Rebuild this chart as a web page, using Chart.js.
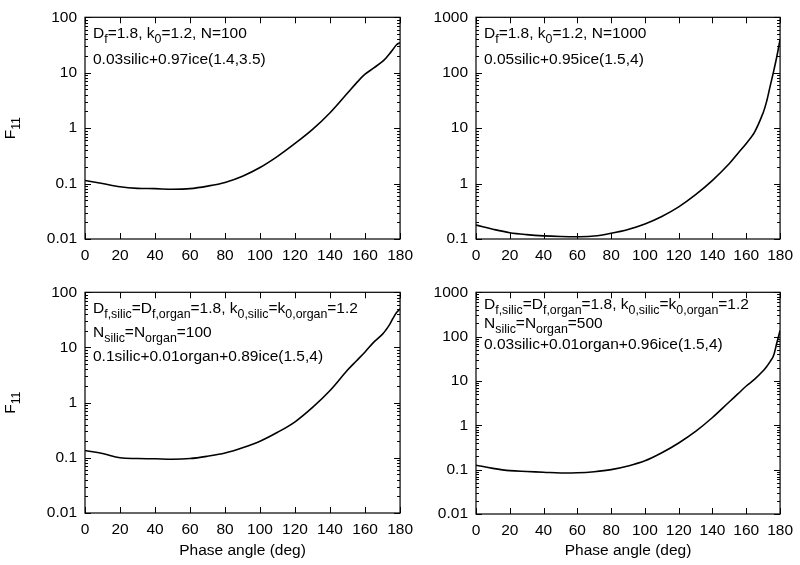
<!DOCTYPE html>
<html>
<head>
<meta charset="utf-8">
<script src="https://cdn.jsdelivr.net/npm/chart.js@4.4.0/dist/chart.umd.min.js"></script>
<style>
    body { margin: 0; background: #fff; }
    #wrap { position: relative; width: 800px; height: 565px; overflow: hidden; }
    canvas { position: absolute; }
</style>
</head>
<body>
<div id="wrap">
    <canvas id="p1" width="420" height="275" style="left:0;top:0"></canvas>
    <canvas id="p2" width="400" height="275" style="left:400px;top:0"></canvas>
    <canvas id="p3" width="420" height="290" style="left:0;top:275px"></canvas>
    <canvas id="p4" width="400" height="290" style="left:400px;top:275px"></canvas>
</div>
<script>
// phase angles (deg) shared by all four panels
const angles = [0, 10, 20, 30, 40, 50, 60, 70, 80, 90, 100, 110, 120, 130, 140, 150, 155, 160, 165, 170, 172, 174, 176, 178, 180];

// F11
const f11Top1 = [0.114, 0.1, 0.0875, 0.082, 0.081, 0.079, 0.081, 0.09, 0.105, 0.136, 0.195, 0.31, 0.53, 0.95, 1.9, 4.3, 6.5, 9.4, 12.2, 16, 18.5, 22, 26.5, 32, 35];
const f11Top2 = [0.178, 0.15, 0.13, 0.12, 0.114, 0.111, 0.11, 0.113, 0.127, 0.149, 0.187, 0.255, 0.38, 0.63, 1.14, 2.3, 3.5, 5.3, 8.6, 19, 30, 55, 100, 190, 400];
const f11Bottom1 = [0.136, 0.12, 0.1, 0.097, 0.096, 0.094, 0.097, 0.107, 0.122, 0.152, 0.2, 0.29, 0.45, 0.82, 1.66, 3.9, 5.7, 8.3, 12.5, 17.5, 21, 26, 34, 43, 50];
const f11Bottom2 = [0.126, 0.107, 0.095, 0.091, 0.0875, 0.084, 0.085, 0.09, 0.1, 0.121, 0.158, 0.24, 0.40, 0.73, 1.5, 3.4, 5.1, 7.7, 11, 17, 21, 27, 36, 70, 138];

// axis ticks
const angleTicks = [0, 20, 40, 60, 80, 100, 120, 140, 160, 180];
const decadesTop1 = [0.01, 0.1, 1, 10, 100];
const decadesTop2 = [0.1, 1, 10, 100, 1000];
const decadesBottom = [0.01, 0.1, 1, 10, 100];
const decadesBottom2 = [0.01, 0.1, 1, 10, 100, 1000];

// panel labels (_{...} marks a subscript)
const notesTop1 = ['D_{f}=1.8, k_{0}=1.2, N=100', '0.03silic+0.97ice(1.4,3.5)'];
const notesTop2 = ['D_{f}=1.8, k_{0}=1.2, N=1000', '0.05silic+0.95ice(1.5,4)'];
const notesBottom1 = ['D_{f,silic}=D_{f,organ}=1.8, k_{0,silic}=k_{0,organ}=1.2', 'N_{silic}=N_{organ}=100', '0.1silic+0.01organ+0.89ice(1.5,4)'];
const notesBottom2 = ['D_{f,silic}=D_{f,organ}=1.8, k_{0,silic}=k_{0,organ}=1.2', 'N_{silic}=N_{organ}=500', '0.03silic+0.01organ+0.96ice(1.5,4)'];

const FONT = '"Liberation Sans", Arial, Helvetica, sans-serif';
const SIZE = 15.5;

function eachPart(text, fn) {
    text.split(/(_\{[^}]*\})/).forEach(p => {
        if (!p) return;
        const sub = p.startsWith('_{');
        fn(sub ? p.slice(2, -1) : p, sub);
    });
}

function drawRich(ctx, text, x, y, size) {
    eachPart(text, (t, sub) => {
        ctx.font = (sub ? size * 0.8 : size) + 'px ' + FONT;
        ctx.fillText(t, x, sub ? y + size * 0.3 : y);
        x += ctx.measureText(t).width;
    });
    return x;
}

function richWidth(ctx, text, size) {
    let w = 0;
    eachPart(text, (t, sub) => {
        ctx.font = (sub ? size * 0.8 : size) + 'px ' + FONT;
        w += ctx.measureText(t).width;
    });
    return w;
}

// frame with inward ticks, notes and the F11 label
const framePlugin = {
    id: 'frame',
    afterDraw(chart, args, opts) {
        const ctx = chart.ctx;
        const { left, right, top, bottom } = chart.chartArea;
        const xs = chart.scales.x, ys = chart.scales.y;
        ctx.save();
        ctx.strokeStyle = '#000';
        ctx.lineWidth = 1.2;
        ctx.strokeRect(left, top, right - left, bottom - top);
        ctx.lineWidth = 1;
        ctx.beginPath();
        angleTicks.forEach(v => {
            const px = Math.round(xs.getPixelForValue(v)) + 0.5;
            ctx.moveTo(px, bottom); ctx.lineTo(px, bottom - 6);
            ctx.moveTo(px, top); ctx.lineTo(px, top + 6);
        });
        opts.decades.forEach((d, i) => {
            const py = Math.round(ys.getPixelForValue(d)) + 0.5;
            ctx.moveTo(left, py); ctx.lineTo(left + 6, py);
            ctx.moveTo(right, py); ctx.lineTo(right - 6, py);
            if (i < opts.decades.length - 1) {
                for (let k = 2; k <= 9; k++) {
                    const my = Math.round(ys.getPixelForValue(d * k)) + 0.5;
                    ctx.moveTo(left, my); ctx.lineTo(left + 3, my);
                    ctx.moveTo(right, my); ctx.lineTo(right - 3, my);
                }
            }
        });
        ctx.stroke();

        ctx.fillStyle = '#000';
        ctx.textBaseline = 'alphabetic';
        ctx.textAlign = 'left';
        opts.notes.forEach((line, i) => {
            drawRich(ctx, line, left + opts.noteX, top + opts.noteY[i], SIZE);
        });

        if (opts.yTitle) {
            const cy = (top + bottom) / 2;
            const w = richWidth(ctx, 'F_{11}', SIZE);
            ctx.translate(15, cy);
            ctx.rotate(-Math.PI / 2);
            drawRich(ctx, 'F_{11}', -w / 2, 0, SIZE);
        }
        ctx.restore();
    }
};

function makePanel(id, values, decades, notes, box, noteY, xTitle, yTitle) {
    const canvas = document.getElementById(id);
    const W = canvas.width, H = canvas.height;
    const points = angles.map((a, i) => ({ x: a, y: values[i] }));
    new Chart(canvas.getContext('2d'), {
        type: 'line',
        data: {
            datasets: [{
                data: points,
                borderColor: '#000',
                borderWidth: 1.6,
                pointRadius: 0,
                fill: false,
                tension: 0.35
            }]
        },
        options: {
            responsive: false,
            animation: false,
            devicePixelRatio: 1,
            layout: { padding: { top: box.top, right: W - box.right, left: 0, bottom: 0 } },
            plugins: {
                legend: { display: false },
                tooltip: { enabled: false },
                frame: { decades: decades, notes: notes, noteX: 8, noteY: noteY, yTitle: yTitle }
            },
            scales: {
                x: {
                    type: 'linear',
                    min: 0,
                    max: 180,
                    grid: { display: false, drawTicks: false },
                    border: { display: false },
                    ticks: {
                        stepSize: 20,
                        autoSkip: false,
                        maxRotation: 0,
                        padding: 7,
                        color: '#000',
                        font: { family: FONT, size: SIZE }
                    },
                    title: {
                        display: xTitle,
                        text: 'Phase angle (deg)',
                        color: '#000',
                        padding: { top: 0, bottom: 5 },
                        font: { family: FONT, size: SIZE }
                    },
                    afterFit(scale) { scale.height = H - box.bottom; }
                },
                y: {
                    type: 'logarithmic',
                    min: decades[0],
                    max: decades[decades.length - 1],
                    grid: { display: false, drawTicks: false },
                    border: { display: false },
                    afterBuildTicks(scale) {
                        scale.ticks = decades.map(v => ({ value: v }));
                    },
                    ticks: {
                        padding: 8,
                        color: '#000',
                        font: { family: FONT, size: SIZE },
                        callback: v => String(v)
                    },
                    afterFit(scale) { scale.width = box.left; }
                }
            }
        },
        plugins: [framePlugin]
    });
}

document.addEventListener('DOMContentLoaded', function () {
    makePanel('p1', f11Top1, decadesTop1, notesTop1, { left: 85, top: 10, right: 403, bottom: 239 }, [21, 47], false, true);
    makePanel('p2', f11Top2, decadesTop2, notesTop2, { left: 76, top: 10, right: 382, bottom: 239 }, [21, 47], false, false);
    makePanel('p3', f11Bottom1, decadesBottom, notesBottom1, { left: 85, top: 10, right: 403, bottom: 238 }, [21, 45, 69], true, true);
    makePanel('p4', f11Bottom2, decadesBottom2, notesBottom2, { left: 76, top: 9, right: 382, bottom: 239 }, [17, 36, 57], true, false);
});
</script>
</body>
</html>
